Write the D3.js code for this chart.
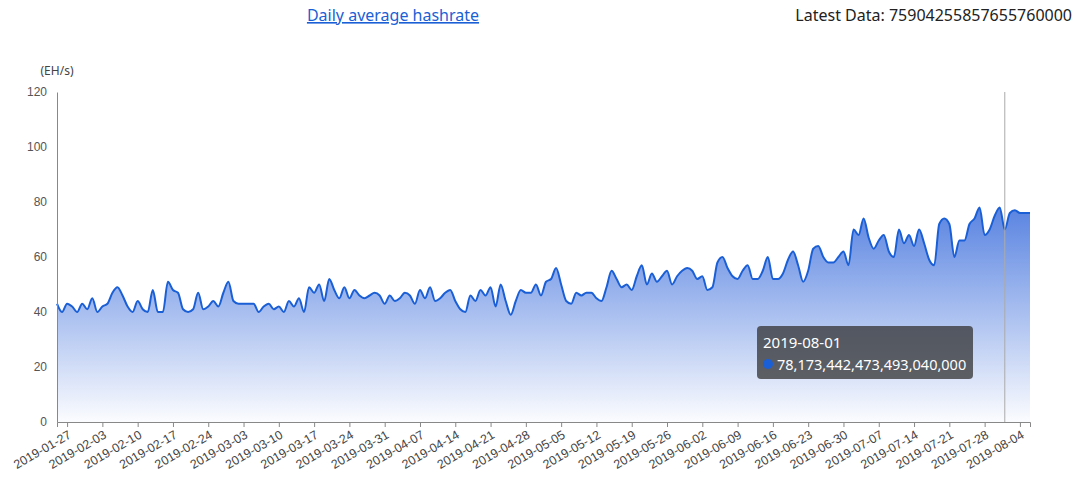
<!DOCTYPE html>
<html><head><meta charset="utf-8">
<script src="https://cdn.jsdelivr.net/npm/d3@7"></script>
<style>body{margin:0;background:#fff;font-family:"Microsoft YaHei","Noto Sans",Arial,sans-serif}</style>
</head><body><svg id="c" width="1080" height="499"></svg>
<script>
const startDate = "2019-01-25";
const values = [43,40,43,42,40,43,41, 45,40,42,43,47,49,46, 42,40,44,41,40,48,40,
40,51,48,47,41,40,41, 47,41,42,44,42,47,51, 44,43,43,43,43,40,42, 43,41,42,40,44,42,45,
40,49,47,50,44,52,48, 45,49,45,48,46,45,46, 47,46,43,46,44,45,47, 46,43,48,45,49,44,45,
47,48,44,41,40,46,44, 48,46,49,42,50,44,39, 44,48,47,47,50,46,51, 52,56,50,44,43,47,46,
47,47,45,44,49,55,52, 49,50,48,53,57,50,54, 51,53,55,50,53,55,56, 55,52,53,48,49,58,60,
56,53,52,55,57,52,52, 55,60,52,52,54,59,62, 57,51,55,63,64,60,58, 58,60,62,57,70,68,74,
67,63,66,68,62,60,70, 65,68,64,70,65,59,57, 72,74,72,60,66,66,72, 74,78,68,70,75,78,70,
76,77,76,76,76];
const yTicks = [0,20,40,60,80,100,120];
const titleText = "Daily average hashrate";
const latestText = "Latest Data: 75904255857655760000";
const tipDate = "2019-08-01", tipValue = "78,173,442,473,493,040,000";

const parse = d3.timeParse("%Y-%m-%d"), fmt = d3.timeFormat("%Y-%m-%d");
const s0 = parse(startDate);
const data = values.map((v,i)=>({d:d3.timeDay.offset(s0,i), v}));
const svg = d3.select("#c");
const x = d3.scaleTime().domain(d3.extent(data,d=>d.d)).range([57,1030]);
const y = d3.scaleLinear().domain([0,120]).range([422,92]);

const grad = svg.append("defs").append("linearGradient").attr("id","g").attr("x1",0).attr("y1",0).attr("x2",0).attr("y2",1);
grad.append("stop").attr("offset","0%").attr("stop-color","rgb(60,110,220)").attr("stop-opacity",0.85);
grad.append("stop").attr("offset","100%").attr("stop-color","rgb(60,110,220)").attr("stop-opacity",0.02);
const yBase = y(0);
svg.append("path").datum(data).attr("fill","url(#g)")
 .attr("d", d3.area().x(d=>x(d.d)).y0(yBase).y1(d=>y(d.v)).curve(d3.curveMonotoneX));
svg.append("path").datum(data).attr("fill","none").attr("stroke","#1a5fd6").attr("stroke-width",2)
 .attr("d", d3.line().x(d=>x(d.d)).y(d=>y(d.v)).curve(d3.curveMonotoneX));

const ya = svg.append("g").attr("transform","translate(57,0)").call(d3.axisLeft(y).tickValues(yTicks).tickSize(0).tickPadding(10));
ya.select(".domain").attr("stroke","#888");
ya.selectAll("text").attr("fill","#555").attr("font-size",12);
svg.append("text").attr("x",57).attr("y",75).attr("text-anchor","middle").attr("font-size",12).attr("fill","#444").text("(EH/s)");

const xTicks = d3.timeDay.range(parse("2019-01-27"), d3.timeDay.offset(x.domain()[1],1), 7);
const xa = svg.append("g").attr("transform",`translate(0,${yBase})`).call(d3.axisBottom(x).tickValues(xTicks).tickFormat(fmt).tickSize(5));
xa.select(".domain").attr("stroke","#888");
xa.selectAll("line").attr("stroke","#888");
xa.selectAll("text").attr("fill","#444").attr("font-size",12.5).attr("text-anchor","end")
 .attr("transform","rotate(-30)").attr("dx","-0.3em").attr("dy","0.6em");

const cx = x(parse(tipDate));
svg.append("line").attr("x1",cx).attr("x2",cx).attr("y1",92).attr("y2",422).attr("stroke","#aaa");

svg.append("rect").attr("x",757).attr("y",326).attr("width",216).attr("height",53).attr("rx",4).attr("fill","rgba(50,50,50,0.75)");
svg.append("text").attr("x",763).attr("y",348).attr("fill","#fff").attr("font-size",15).text(tipDate);
svg.append("circle").attr("cx",768).attr("cy",364).attr("r",5).attr("fill","#1a5fd6");
svg.append("text").attr("x",777).attr("y",370).attr("fill","#fff").attr("font-size",14.5).text(tipValue);

svg.append("text").attr("x",393).attr("y",21).attr("text-anchor","middle").attr("font-size",16).attr("fill","#1a5fd6").attr("text-decoration","underline").text(titleText);
svg.append("text").attr("x",1072).attr("y",21).attr("text-anchor","end").attr("font-size",16).attr("fill","#222").text(latestText);
</script></body></html>
